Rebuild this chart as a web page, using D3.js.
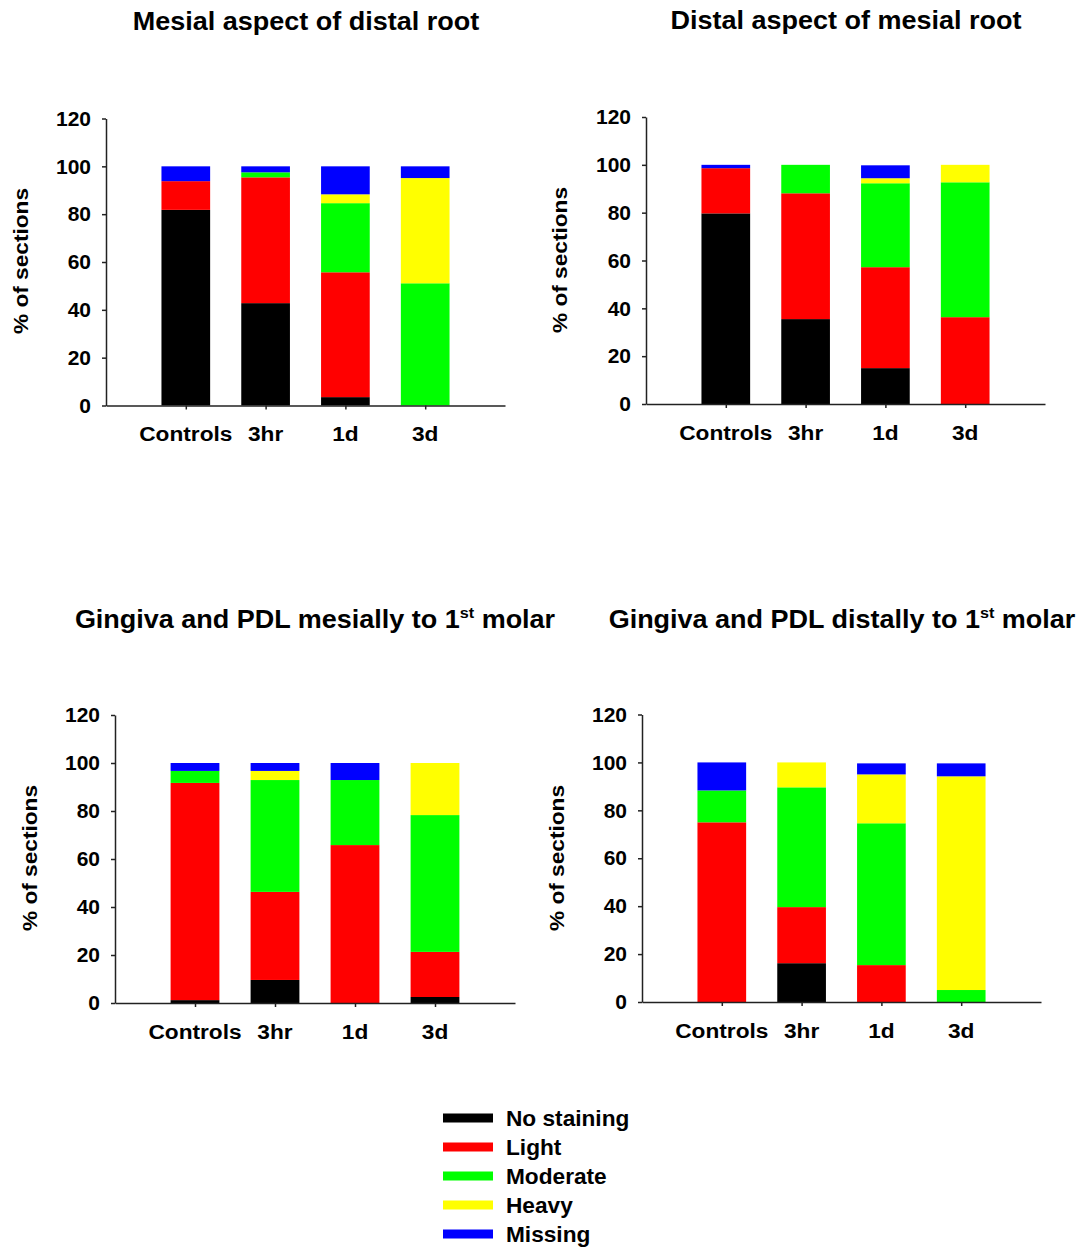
<!DOCTYPE html>
<html>
<head>
<meta charset="utf-8">
<script src="https://cdn.jsdelivr.net/npm/d3@7"></script>
<style>
  body { margin: 0; background: #fff; }
  svg text { font-family: Arial, "Liberation Sans", sans-serif; font-weight: bold; fill: #000; }
  .axis path, .axis line { stroke: #222; stroke-width: 1.5; }
  .axis text { font-size: 21px; }
</style>
</head>
<body>
<div id="chart"></div>
<script>
// categories and series
var groups = ["Controls", "3hr", "1d", "3d"];
var levels = ["No staining", "Light", "Moderate", "Heavy", "Missing"];
var colors = ["#000000", "#ff0000", "#00ff00", "#ffff00", "#0000ff"];
var yTicks = [0, 20, 40, 60, 80, 100, 120];

// % of sections per level (No staining, Light, Moderate, Heavy, Missing) for each group
var mesialDistalRoot = [
    [81.8, 12.0, 0, 0, 6.2],
    [42.8, 52.6, 2.1, 0, 2.5],
    [3.5, 52.2, 28.9, 3.7, 11.7],
    [0, 0, 51.1, 44.0, 4.9]
];
var distalMesialRoot = [
    [79.7, 18.9, 0, 0, 1.4],
    [35.5, 52.6, 11.9, 0, 0],
    [15.0, 42.2, 35.1, 2.1, 5.4],
    [0, 36.3, 56.4, 7.3, 0]
];
var gingivaMesial = [
    [1.2, 90.5, 5.0, 0, 3.3],
    [9.6, 36.7, 46.6, 3.8, 3.3],
    [0, 65.8, 27.1, 0, 7.1],
    [2.5, 18.8, 57.0, 21.7, 0]
];
var gingivaDistal = [
    [0, 75.0, 13.3, 0, 11.7],
    [16.2, 23.4, 50.0, 10.4, 0],
    [0, 15.4, 59.2, 20.4, 4.6],
    [0, 0, 5.0, 89.2, 5.4]
];

var stretch = 1.08;

var svg = d3.select("#chart").append("svg")
    .attr("width", 1081)
    .attr("height", 1247);

var panels = [
    { title: "Mesial aspect of distal root", data: mesialDistalRoot,
      tx: 306, ty: 30, x0: 106, x1: 505, yTop: 118.5, yZero: 405.5, labX: 28, labY: 261, catY: 441 },
    { title: "Distal aspect of mesial root", data: distalMesialRoot,
      tx: 846, ty: 29, x0: 646, x1: 1045, yTop: 117, yZero: 404, labX: 567, labY: 260, catY: 440 },
    { title: "Gingiva and PDL mesially to 1", sup: "st", after: " molar", data: gingivaMesial,
      tx: 315, ty: 628, x0: 115, x1: 515, yTop: 715, yZero: 1003, labX: 37, labY: 858, catY: 1039 },
    { title: "Gingiva and PDL distally to 1", sup: "st", after: " molar", data: gingivaDistal,
      tx: 842, ty: 628, x0: 642, x1: 1041, yTop: 714.5, yZero: 1002, labX: 564, labY: 858, catY: 1038 }
];

panels.forEach(function(p) {
    var x = d3.scalePoint()
        .domain(groups)
        .range([p.x0, p.x1])
        .padding(1);

    var y = d3.scaleLinear()
        .domain([0, 120])
        .range([p.yZero, p.yTop]);

    var barW = x.step() * 0.61;

    // stack the levels
    var rows = p.data.map(function(vals, i) {
        var r = { group: groups[i] };
        levels.forEach(function(l, j) { r[l] = vals[j]; });
        return r;
    });
    var series = d3.stack().keys(levels)(rows);

    var g = svg.append("g");

    g.selectAll("g.layer")
        .data(series)
        .enter()
        .append("g")
        .attr("class", "layer")
        .attr("fill", (d, i) => colors[i])
        .selectAll("rect")
        .data(d => d)
        .enter()
        .append("rect")
        .attr("x", d => x(d.data.group) - barW / 2)
        .attr("width", barW)
        .attr("y", d => y(d[1]))
        .attr("height", d => Math.max(0, y(d[0]) - y(d[1])));

    // axes
    g.append("g")
        .attr("class", "axis")
        .attr("transform", `translate(${p.x0},0)`)
        .call(d3.axisLeft(y).tickValues(yTicks).tickSize(4).tickPadding(11).tickSizeOuter(0));

    g.append("g")
        .attr("class", "axis")
        .attr("transform", `translate(0,${p.yZero})`)
        .call(d3.axisBottom(x).tickSize(4).tickSizeOuter(0).tickFormat(""));

    // x category labels
    g.selectAll("text.cat")
        .data(groups)
        .enter()
        .append("text")
        .attr("class", "cat")
        .attr("transform", d => `translate(${x(d)},${p.catY}) scale(${stretch},1)`)
        .attr("text-anchor", "middle")
        .attr("font-size", "21px")
        .text(d => d);

    // y label
    g.append("text")
        .attr("transform", `translate(${p.labX},${p.labY}) rotate(-90) scale(${stretch},1)`)
        .attr("text-anchor", "middle")
        .attr("font-size", "21px")
        .text("% of sections");

    // title
    var t = g.append("text")
        .attr("transform", `translate(${p.tx},${p.ty}) scale(${stretch},1)`)
        .attr("text-anchor", "middle")
        .attr("font-size", "25px");
    t.append("tspan").text(p.title);
    if (p.sup) {
        t.append("tspan").attr("font-size", "15px").attr("dy", -10).text(p.sup);
        t.append("tspan").attr("dy", 10).text(p.after);
    }
});

// legend
var legend = svg.append("g");
levels.forEach(function(l, i) {
    var cy = 1118 + i * 29;
    legend.append("rect")
        .attr("x", 443)
        .attr("y", cy - 4.5)
        .attr("width", 50)
        .attr("height", 9)
        .attr("fill", colors[i]);
    legend.append("text")
        .attr("transform", `translate(506,${cy + 8}) scale(1.03,1)`)
        .attr("font-size", "22px")
        .text(l);
});
</script>
</body>
</html>
